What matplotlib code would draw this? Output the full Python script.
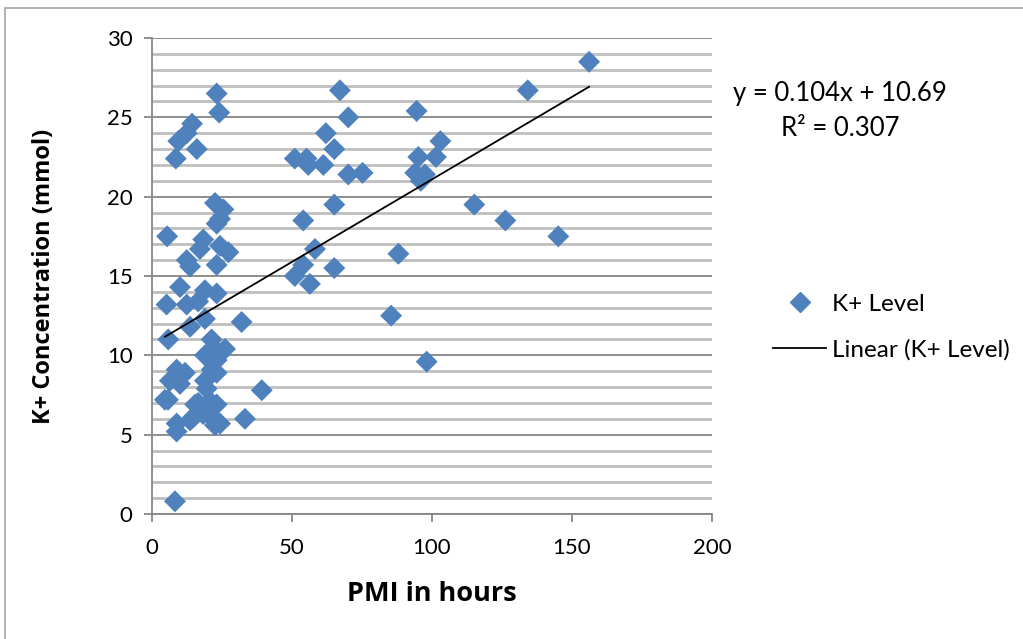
import numpy as np
import matplotlib.pyplot as plt
from matplotlib.patches import Rectangle
from matplotlib.lines import Line2D

plt.rcParams['font.family'] = ['Lato', 'DejaVu Sans']

# PMI (hours) and K+ concentration (mmol)
pmi = [8.2, 8.8, 8.8, 13.6, 14.8, 16.5, 18.3, 22.5, 24.3, 22.5,
       33.2, 15.4, 16.5, 20.7, 21.3, 23.1, 4.6, 5.7, 39.2, 19.5,
       18.9, 6.4, 10.0, 8.2, 8.8, 11.8, 21.3, 23.1, 18.9, 23.1,
       21.3, 26.1, 22.0, 5.8, 13.6, 18.9, 32.0, 5.2, 12.4, 16.5,
       10.0, 18.9, 23.1, 12.4, 13.6, 23.1, 17.1, 18.3, 24.3, 27.3,
       5.4, 23.1, 24.3, 22.5, 25.5, 8.5, 9.4, 12.4, 14.3, 16.0,
       23.1, 24.0,
       51.0, 55.2, 55.8, 61.2, 62.1, 65.1, 67.1, 70.1, 70.1, 75.2,
       65.1, 54.0, 58.2, 54.0, 51.0, 56.4, 65.1, 88.0, 85.4, 98.1,
       94.5, 95.1, 101.4, 103.0, 94.0, 97.5, 96.0, 115.1, 126.2, 145.1,
       134.2, 156.1]
k_level = [0.8, 5.2, 5.7, 5.9, 6.1, 6.4, 6.3, 5.9, 5.7, 5.6,
           6.0, 6.9, 7.0, 7.1, 6.9, 6.9, 7.2, 7.2, 7.8, 7.9,
           8.4, 8.4, 8.2, 8.6, 9.1, 8.9, 9.1, 8.9, 10.0, 9.7,
           11.0, 10.4, 10.5, 11.0, 11.8, 12.3, 12.1, 13.2, 13.2, 13.4,
           14.3, 14.1, 13.9, 16.0, 15.6, 15.7, 16.7, 17.3, 16.9, 16.5,
           17.5, 18.3, 18.6, 19.6, 19.2, 22.4, 23.5, 24.0, 24.6, 23.0,
           26.5, 25.3,
           22.4, 22.4, 22.0, 22.0, 24.0, 23.0, 26.7, 25.0, 21.4, 21.5,
           19.5, 18.5, 16.7, 15.7, 15.0, 14.5, 15.5, 16.4, 12.5, 9.6,
           25.4, 22.5, 22.5, 23.5, 21.5, 21.4, 21.0, 19.5, 18.5, 17.5,
           26.7, 28.5]

# trendline as reported on the chart
slope = 0.104
intercept = 10.69
r2 = 0.307

fig = plt.figure(figsize=(10.23, 6.39), dpi=100)
fig.patches.append(Rectangle((5 / 1023, -0.01), 1.1, 1 - 8 / 639 + 0.01,
                             transform=fig.transFigure, fill=False,
                             edgecolor='#a6a6a6', linewidth=1.2))

ax = fig.add_axes([152 / 1023, 1 - 514 / 639, 560 / 1023, 476 / 639])

# gridlines: minor every 1, major every 5
for yv in range(0, 31):
    if yv % 5 == 0:
        ax.axhline(yv, color='#868686', linewidth=1.3, zorder=0)
    else:
        ax.axhline(yv, color='#bfbfbf', linewidth=2.0, zorder=0)

ax.scatter(pmi, k_level, marker='D', s=125, color='#4f81bd',
           edgecolors='none', zorder=3)

xs = np.array([min(pmi), max(pmi)])
ax.plot(xs, slope * xs + intercept, color='black', linewidth=1.3, zorder=4)

ax.set_xlim(0, 200)
ax.set_ylim(0, 30)
ax.set_xticks(range(0, 201, 50))
ax.set_yticks(range(0, 31, 5))
for s in ['top', 'right']:
    ax.spines[s].set_visible(False)
for s in ['left', 'bottom']:
    ax.spines[s].set_color('#868686')
    ax.spines[s].set_linewidth(1.3)
ax.tick_params(axis='both', direction='out', length=6, width=1.3,
               color='#868686', labelsize=16)
ax.tick_params(axis='x', pad=11)
ax.tick_params(axis='y', pad=8)

ax.set_xlabel('PMI in hours', fontsize=19.5, fontweight='bold',
              family=['Open Sans', 'DejaVu Sans'])
ax.set_ylabel('K+ Concentration (mmol)', fontsize=17, fontweight='bold',
              family=['Open Sans', 'DejaVu Sans'])
ax.xaxis.set_label_coords(0.5, -0.14)
ax.yaxis.set_label_coords(-0.172, 0.5)

fig.text(840 / 1023, 1 - 93 / 639, 'y = 0.104x + 10.69', fontsize=18.5,
         ha='center', va='center')
fig.text(840 / 1023, 1 - 128 / 639, 'R² = %.3f' % r2, fontsize=18.5,
         ha='center', va='center')

handles = [Line2D([], [], marker='D', linestyle='none', color='#4f81bd',
                  markersize=10),
           Line2D([], [], color='black', linewidth=1.3)]
fig.legend(handles, ['K+ Level', 'Linear (K+ Level)'], loc='center left',
           bbox_to_anchor=(751 / 1023, 1 - 327 / 639), frameon=False,
           fontsize=17.5, handlelength=2.2, handletextpad=0.25,
           labelspacing=1.0)

fig.savefig('out.png', dpi=100)
